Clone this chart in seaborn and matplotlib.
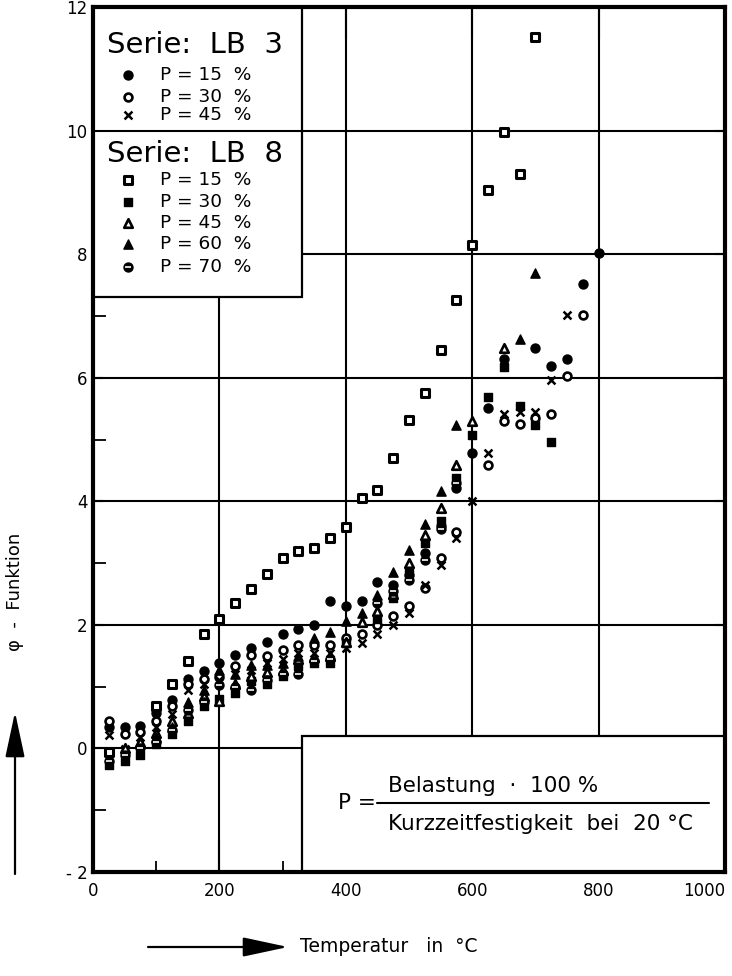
import numpy as np
import pandas as pd
import matplotlib
matplotlib.use("Agg")
import matplotlib.pyplot as plt
from matplotlib.patches import Rectangle
import seaborn as sns

nan = np.nan

# Temperature steps (°C)
temps = [25, 50, 75, 100, 125, 150, 175, 200, 225, 250, 275, 300, 325, 350, 375, 400,
         425, 450, 475, 500, 525, 550, 575, 600, 625, 650, 675, 700, 725, 750, 775, 800]

# Serie LB 3
lb3_p15 = [0.34, 0.34, 0.37, 0.57, 0.78, 1.13, 1.26, 1.38, 1.51, 1.62, 1.73, 1.86, 1.94, 1.99, 2.38, 2.30,
           2.38, 2.69, 2.65, 2.80, 3.16, 3.60, 4.21, 4.78, 5.51, 6.30, nan, 6.48, 6.19, 6.30, 7.51, 8.02]
lb3_p30 = [0.45, 0.24, 0.27, 0.45, 0.68, 1.05, 1.13, 1.16, 1.33, 1.51, 1.49, 1.59, 1.67, 1.67, 1.67, 1.78,
           1.86, 2.00, 2.14, 2.30, 2.59, 3.08, 3.51, nan, 4.58, 5.30, 5.25, 5.34, 5.42, 6.02, 7.01, nan]
lb3_p45 = [0.21, -0.01, 0.18, 0.35, 0.55, 0.95, 1.05, 1.10, 1.20, 1.27, 1.38, 1.45, 1.55, 1.55, 1.55, 1.62,
           1.70, 1.86, 2.00, 2.19, 2.65, 2.97, 3.40, 4.00, 4.78, 5.42, 5.45, 5.45, 5.96, 7.01, nan, nan]

# Serie LB 8
lb8_p15 = [-0.05, nan, nan, 0.68, 1.04, 1.42, 1.85, 2.10, 2.35, 2.58, 2.82, 3.09, 3.19, 3.25, 3.40, 3.59,
           4.05, 4.19, 4.70, 5.31, 5.76, 6.45, 7.25, 8.15, 9.04, 9.98, 9.30, 11.51, nan, nan, nan, nan]
lb8_p30 = [-0.27, -0.21, -0.11, 0.07, 0.24, 0.45, 0.68, 0.80, 0.89, 1.09, 1.05, 1.17, 1.34, 1.38, 1.38, 1.70,
           nan, 2.10, 2.43, 2.85, 3.32, 3.68, 4.37, 5.07, 5.69, 6.17, 5.54, 5.23, 4.96, nan, nan, nan]
lb8_p45 = [nan, 0.00, 0.10, 0.25, 0.45, 0.57, 0.85, 0.76, 1.05, 1.18, 1.24, 1.27, 1.45, 1.48, 1.49, 1.72,
           2.05, 2.22, 2.50, 3.00, 3.45, 3.89, 4.58, 5.30, nan, 6.48, nan, nan, nan, nan, nan, nan]
lb8_p60 = [nan, nan, nan, 0.19, 0.35, 0.75, 0.95, 1.27, 1.20, 1.35, 1.35, 1.38, 1.50, 1.78, 1.89, 2.06,
           2.20, 2.48, 2.86, 3.21, 3.64, 4.16, 5.23, nan, nan, nan, 6.62, 7.69, nan, nan, nan, nan]
lb8_p70 = [-0.21, -0.11, 0.00, 0.10, 0.30, 0.62, 0.75, 1.02, 1.00, 0.95, 1.10, 1.20, 1.21, 1.42, 1.45, nan,
           nan, 2.35, 2.55, 2.72, 3.05, 3.55, 4.30, nan, nan, nan, nan, nan, nan, nan, nan, nan]

xticks = [0, 200, 400, 600, 800, 1000]
xticklabels = ["0", "200", "400", "600", "800", "1000"]
yticks = [-2, 0, 2, 4, 6, 8, 10, 12]
yticklabels = ["- 2", "0", "2", "4", "6", "8", "10", "12"]

sns.set_theme(style="white")
plt.rcParams["font.family"] = ["DejaVu Sans"]
plt.rcParams["text.color"] = "black"
plt.rcParams["xtick.color"] = "black"
plt.rcParams["ytick.color"] = "black"
plt.rcParams["xtick.labelcolor"] = "black"
plt.rcParams["ytick.labelcolor"] = "black"

W, H = 732, 976
fig = plt.figure(figsize=(W / 100, H / 100), dpi=100)
ax = fig.add_axes([93 / W, 1 - 872 / H, (725 - 93) / W, (872 - 7) / H])
ax.set_xlim(0, 1000)
ax.set_ylim(-2, 12)

# Grid drawn as plain lines beneath the boxes
for gx in xticks[1:-1]:
    ax.axvline(gx, color="black", lw=1.5, zorder=0.3)
for gy in yticks[1:-1]:
    ax.axhline(gy, color="black", lw=1.5, zorder=0.3)

# Styles for every series
styles = {
    ("LB 3", 15): dict(marker="o", s=42, facecolor="black", edgecolor="black", linewidth=1.0),
    ("LB 3", 30): dict(marker="o", s=32, facecolor="white", edgecolor="black", linewidth=1.9),
    ("LB 3", 45): dict(marker="x", s=32, color="black", linewidth=1.8),
    ("LB 8", 15): dict(marker="s", s=34, facecolor="white", edgecolor="black", linewidth=2.2),
    ("LB 8", 30): dict(marker="s", s=34, facecolor="black", edgecolor="black", linewidth=1.0),
    ("LB 8", 45): dict(marker="^", s=38, facecolor="white", edgecolor="black", linewidth=1.9),
    ("LB 8", 60): dict(marker="^", s=44, facecolor="black", edgecolor="black", linewidth=1.0),
    ("LB 8", 70): dict(marker="o", s=42, facecolor="black", edgecolor="black", linewidth=1.0),
}
values = {
    ("LB 3", 15): lb3_p15, ("LB 3", 30): lb3_p30, ("LB 3", 45): lb3_p45,
    ("LB 8", 15): lb8_p15, ("LB 8", 30): lb8_p30, ("LB 8", 45): lb8_p45,
    ("LB 8", 60): lb8_p60, ("LB 8", 70): lb8_p70,
}

for key, vals in values.items():
    df = pd.DataFrame({"T": temps, "phi": vals}).dropna()
    sns.scatterplot(data=df, x="T", y="phi", ax=ax, legend=False, zorder=4, **styles[key])
    if key == ("LB 8", 70):
        # white bar across the half-filled circles
        sns.scatterplot(data=df, x="T", y="phi", ax=ax, legend=False, zorder=5,
                        marker="_", s=14, color="white", linewidth=1.2)

# Legend box (top left)
ax.add_patch(Rectangle((0, 7.3), 331, 4.7, facecolor="white", edgecolor="black", lw=1.6, zorder=1))
ax.plot([0, 331], [10, 10], color="black", lw=1.5, zorder=1.2)
ax.text(22, 11.39, "Serie:  LB  3", fontsize=21, va="center", ha="left", color="black", zorder=2)
ax.text(22, 9.62, "Serie:  LB  8", fontsize=21, va="center", ha="left", color="black", zorder=2)

legend_rows = [
    (("LB 3", 15), 10.90, "P = 15  %"),
    (("LB 3", 30), 10.55, "P = 30  %"),
    (("LB 3", 45), 10.25, "P = 45  %"),
    (("LB 8", 15), 9.20, "P = 15  %"),
    (("LB 8", 30), 8.84, "P = 30  %"),
    (("LB 8", 45), 8.50, "P = 45  %"),
    (("LB 8", 60), 8.16, "P = 60  %"),
    (("LB 8", 70), 7.80, "P = 70  %"),
]
for key, ly, label in legend_rows:
    st = dict(styles[key])
    ax.scatter([55], [ly], zorder=3, **st)
    if key == ("LB 8", 70):
        ax.scatter([55], [ly], marker="_", s=14, color="white", linewidth=1.2, zorder=3.5)
    ax.text(106, ly, label, fontsize=13.3, va="center", ha="left", color="black", zorder=3)

# Definition box (bottom right)
ax.add_patch(Rectangle((331, -2), 669, 2.2, facecolor="white", edgecolor="black", lw=1.6, zorder=1))
ax.text(447, -0.88, "P =", fontsize=15.5, va="center", ha="right", color="black", zorder=2)
ax.plot([449, 975], [-0.88, -0.88], color="black", lw=1.5, zorder=2)
ax.text(467, -0.60, "Belastung  ·  100 %", fontsize=15.5, va="center", ha="left",
        color="black", zorder=2)
ax.text(467, -1.22, "Kurzzeitfestigkeit  bei  20 °C", fontsize=15.5, va="center", ha="left",
        color="black", zorder=2)

# Axes, ticks, frame
ax.set_xticks(xticks)
ax.set_xticklabels(xticklabels)
ax.set_yticks(yticks)
ax.set_yticklabels(yticklabels)
ax.set_xticks(range(100, 1000, 200), minor=True)
ax.set_yticks(range(-1, 12, 2), minor=True)
ax.tick_params(axis="x", which="major", direction="in", length=23, width=1.5, labelsize=12,
               pad=7, top=True, bottom=True, colors="black")
ax.tick_params(axis="x", which="minor", direction="in", length=8, width=1.3, bottom=True, top=False,
               colors="black")
ax.tick_params(axis="y", which="major", direction="in", length=7, width=1.5, labelsize=12,
               pad=4, left=True, right=True, colors="black")
ax.tick_params(axis="y", which="minor", direction="in", length=9, width=1.3, left=True, right=False,
               colors="black")
ax.get_xticklabels()[-1].set_horizontalalignment("right")
ax.set_xlabel("")
ax.set_ylabel("")
for sp in ax.spines.values():
    sp.set_linewidth(3)
    sp.set_color("black")
    sp.set_zorder(6)

# Axis captions with direction arrows
fig.text(300 / W, 1 - 947 / H, "Temperatur   in  °C", fontsize=13.5, ha="left", va="center",
         color="black")
ax.annotate("", xy=(288, H - 947), xytext=(148, H - 947), xycoords="figure pixels",
            textcoords="figure pixels",
            arrowprops=dict(arrowstyle="-|>,head_length=1.4,head_width=0.3", lw=1.6,
                            color="black", mutation_scale=20, shrinkA=0, shrinkB=0))
fig.text(15 / W, 1 - 592 / H, "φ  -  Funktion", fontsize=13, rotation=90, ha="center", va="center",
         color="black")
ax.annotate("", xy=(15, H - 712), xytext=(15, H - 874), xycoords="figure pixels",
            textcoords="figure pixels",
            arrowprops=dict(arrowstyle="-|>,head_length=1.4,head_width=0.3", lw=1.6,
                            color="black", mutation_scale=20, shrinkA=0, shrinkB=0))

fig.savefig("out.png", dpi=100, facecolor="white")
